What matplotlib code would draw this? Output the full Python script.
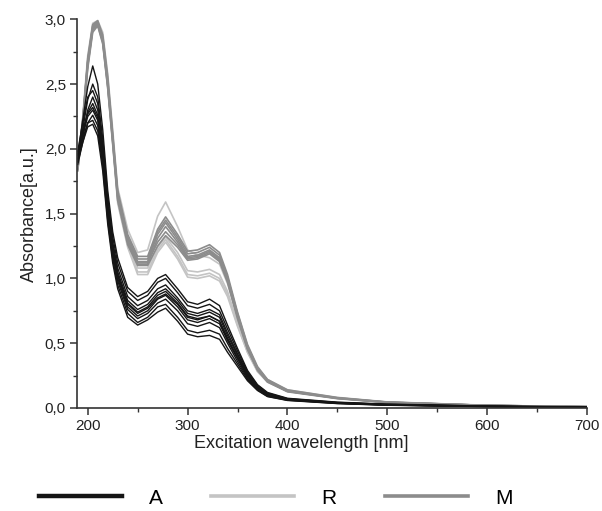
import matplotlib
matplotlib.use("Agg")
import matplotlib.pyplot as plt
from matplotlib.ticker import MultipleLocator, FuncFormatter
from matplotlib.lines import Line2D

plt.rcParams['font.family'] = ['Liberation Sans', 'DejaVu Sans']

wavelength = [190, 195, 200, 205, 210, 215, 220, 225, 230, 240, 250, 260, 270, 278,
              290, 300, 310, 322, 332, 340, 350, 360, 370, 380, 400, 450, 500, 600, 700]

A_series = [
    [1.95, 2.22, 2.48, 2.64, 2.50, 2.15, 1.68, 1.36, 1.16, 0.93, 0.86, 0.90, 1.00, 1.03, 0.92, 0.82, 0.80, 0.84, 0.79, 0.64, 0.46, 0.29, 0.18, 0.12, 0.075, 0.045, 0.03, 0.015, 0.008],
    [1.92, 2.15, 2.38, 2.50, 2.40, 2.08, 1.63, 1.32, 1.12, 0.90, 0.83, 0.87, 0.97, 1.00, 0.89, 0.79, 0.77, 0.80, 0.75, 0.61, 0.44, 0.28, 0.175, 0.115, 0.072, 0.043, 0.028, 0.014, 0.007],
    [1.98, 2.20, 2.40, 2.45, 2.35, 2.03, 1.58, 1.28, 1.08, 0.86, 0.79, 0.83, 0.92, 0.95, 0.85, 0.75, 0.73, 0.76, 0.72, 0.58, 0.42, 0.27, 0.17, 0.11, 0.07, 0.041, 0.027, 0.013, 0.007],
    [1.90, 2.10, 2.30, 2.40, 2.30, 2.00, 1.55, 1.25, 1.05, 0.83, 0.76, 0.80, 0.89, 0.92, 0.83, 0.73, 0.71, 0.74, 0.70, 0.56, 0.41, 0.26, 0.165, 0.105, 0.068, 0.04, 0.026, 0.013, 0.006],
    [1.95, 2.12, 2.28, 2.35, 2.26, 1.96, 1.53, 1.23, 1.03, 0.81, 0.74, 0.78, 0.87, 0.90, 0.81, 0.71, 0.69, 0.71, 0.67, 0.54, 0.39, 0.25, 0.16, 0.10, 0.066, 0.039, 0.025, 0.012, 0.006],
    [1.93, 2.10, 2.25, 2.30, 2.22, 1.93, 1.50, 1.20, 1.00, 0.78, 0.71, 0.75, 0.84, 0.87, 0.78, 0.68, 0.66, 0.69, 0.65, 0.52, 0.38, 0.24, 0.155, 0.097, 0.064, 0.038, 0.024, 0.012, 0.006],
    [1.88, 2.05, 2.20, 2.26, 2.18, 1.90, 1.48, 1.18, 0.98, 0.76, 0.69, 0.73, 0.81, 0.84, 0.75, 0.65, 0.63, 0.66, 0.62, 0.50, 0.36, 0.23, 0.15, 0.095, 0.062, 0.037, 0.023, 0.011, 0.005],
    [1.92, 2.08, 2.20, 2.22, 2.14, 1.87, 1.45, 1.15, 0.95, 0.73, 0.66, 0.70, 0.78, 0.80, 0.70, 0.60, 0.58, 0.60, 0.57, 0.46, 0.34, 0.22, 0.14, 0.09, 0.06, 0.035, 0.022, 0.011, 0.005],
    [1.90, 2.05, 2.17, 2.19, 2.10, 1.83, 1.42, 1.12, 0.92, 0.70, 0.64, 0.68, 0.74, 0.77, 0.67, 0.57, 0.55, 0.56, 0.53, 0.43, 0.32, 0.21, 0.135, 0.088, 0.058, 0.034, 0.021, 0.010, 0.005],
    [1.96, 2.14, 2.27, 2.32, 2.24, 1.95, 1.52, 1.22, 1.02, 0.80, 0.73, 0.77, 0.85, 0.88, 0.80, 0.70, 0.68, 0.71, 0.67, 0.53, 0.39, 0.25, 0.16, 0.10, 0.066, 0.038, 0.024, 0.012, 0.006],
]

M_series = [
    [1.86, 2.22, 2.70, 2.96, 2.99, 2.88, 2.56, 2.12, 1.68, 1.34, 1.17, 1.17, 1.38, 1.475, 1.34, 1.21, 1.22, 1.26, 1.20, 1.03, 0.74, 0.49, 0.32, 0.22, 0.14, 0.08, 0.046, 0.02, 0.01],
    [1.84, 2.20, 2.67, 2.95, 2.98, 2.86, 2.53, 2.10, 1.66, 1.32, 1.15, 1.15, 1.36, 1.45, 1.32, 1.19, 1.20, 1.24, 1.18, 1.01, 0.73, 0.48, 0.31, 0.215, 0.135, 0.078, 0.045, 0.02, 0.01],
    [1.88, 2.23, 2.68, 2.94, 2.97, 2.84, 2.51, 2.08, 1.64, 1.30, 1.13, 1.13, 1.34, 1.43, 1.30, 1.17, 1.18, 1.22, 1.16, 1.00, 0.72, 0.47, 0.31, 0.21, 0.13, 0.076, 0.044, 0.02, 0.01],
    [1.85, 2.20, 2.64, 2.92, 2.96, 2.83, 2.49, 2.06, 1.62, 1.28, 1.11, 1.11, 1.31, 1.40, 1.28, 1.16, 1.17, 1.21, 1.15, 0.99, 0.71, 0.46, 0.30, 0.21, 0.13, 0.075, 0.043, 0.019, 0.009],
    [1.87, 2.22, 2.66, 2.93, 2.97, 2.84, 2.50, 2.07, 1.63, 1.29, 1.12, 1.12, 1.28, 1.36, 1.26, 1.15, 1.16, 1.20, 1.14, 0.98, 0.70, 0.46, 0.30, 0.205, 0.128, 0.074, 0.043, 0.019, 0.009],
    [1.83, 2.18, 2.62, 2.90, 2.95, 2.81, 2.47, 2.04, 1.60, 1.26, 1.10, 1.10, 1.25, 1.33, 1.24, 1.14, 1.15, 1.19, 1.13, 0.97, 0.69, 0.45, 0.29, 0.20, 0.125, 0.072, 0.042, 0.019, 0.009],
]

R_series = [
    [1.89, 2.25, 2.72, 2.97, 2.99, 2.90, 2.58, 2.15, 1.70, 1.38, 1.20, 1.22, 1.48, 1.59, 1.40, 1.22, 1.18, 1.16, 1.11, 0.96, 0.70, 0.47, 0.31, 0.22, 0.14, 0.082, 0.047, 0.021, 0.01],
    [1.86, 2.22, 2.68, 2.95, 2.97, 2.85, 2.50, 2.06, 1.61, 1.28, 1.08, 1.08, 1.24, 1.32, 1.20, 1.06, 1.05, 1.07, 1.03, 0.90, 0.66, 0.44, 0.29, 0.21, 0.135, 0.078, 0.045, 0.02, 0.01],
    [1.84, 2.19, 2.64, 2.92, 2.95, 2.82, 2.47, 2.03, 1.58, 1.24, 1.03, 1.03, 1.20, 1.28, 1.15, 1.01, 1.00, 1.02, 0.98, 0.86, 0.63, 0.43, 0.28, 0.20, 0.13, 0.076, 0.044, 0.02, 0.01],
    [1.87, 2.21, 2.66, 2.93, 2.96, 2.83, 2.48, 2.05, 1.60, 1.26, 1.05, 1.05, 1.22, 1.30, 1.17, 1.03, 1.02, 1.04, 1.00, 0.88, 0.64, 0.43, 0.285, 0.205, 0.13, 0.077, 0.044, 0.02, 0.01],
]

group_labels = ["A", "R", "M"]
colors = {"A": "#151515", "R": "#c4c4c4", "M": "#8c8c8c"}

fig = plt.figure(figsize=(6.02, 5.11), dpi=100)
ax = fig.add_axes([0.128, 0.2016, 0.847, 0.7606])

for ys in R_series:
    ax.plot(wavelength, ys, color=colors["R"], lw=1.2)
for ys in M_series:
    ax.plot(wavelength, ys, color=colors["M"], lw=1.2)
for ys in A_series:
    ax.plot(wavelength, ys, color=colors["A"], lw=1.0)

ax.set_xlim(189.3, 700)
ax.set_ylim(0, 3.0)
ax.xaxis.set_major_locator(MultipleLocator(100))
ax.xaxis.set_minor_locator(MultipleLocator(50))
ax.yaxis.set_major_locator(MultipleLocator(0.5))
ax.yaxis.set_minor_locator(MultipleLocator(0.25))
ax.yaxis.set_major_formatter(FuncFormatter(lambda v, p: f"{v:.1f}".replace(".", ",")))
for s in ["top", "right"]:
    ax.spines[s].set_visible(False)
for s in ["left", "bottom"]:
    ax.spines[s].set_linewidth(1.2)
    ax.spines[s].set_color("#333333")
ax.tick_params(which="major", length=5, width=1.1, color="#333333", labelsize=11,
               labelcolor="#222222", pad=3)
ax.tick_params(which="minor", length=3, width=1.0, color="#333333")
ax.set_xlabel("Excitation wavelength [nm]", fontsize=13, color="#222222")
ax.xaxis.set_label_coords(0.44, -0.07)
ax.set_ylabel("Absorbance[a.u.]", fontsize=13, color="#222222", labelpad=5)

handles = [Line2D([], [], color=colors["A"], lw=3.2),
           Line2D([], [], color=colors["R"], lw=2.6),
           Line2D([], [], color=colors["M"], lw=2.6)]
fig.legend(handles, group_labels, loc="center", bbox_to_anchor=(0.458, 0.025), ncol=3,
           frameon=False, fontsize=15, handlelength=4.0, handletextpad=1.3,
           columnspacing=2.3)

fig.savefig("out.png", dpi=100)
